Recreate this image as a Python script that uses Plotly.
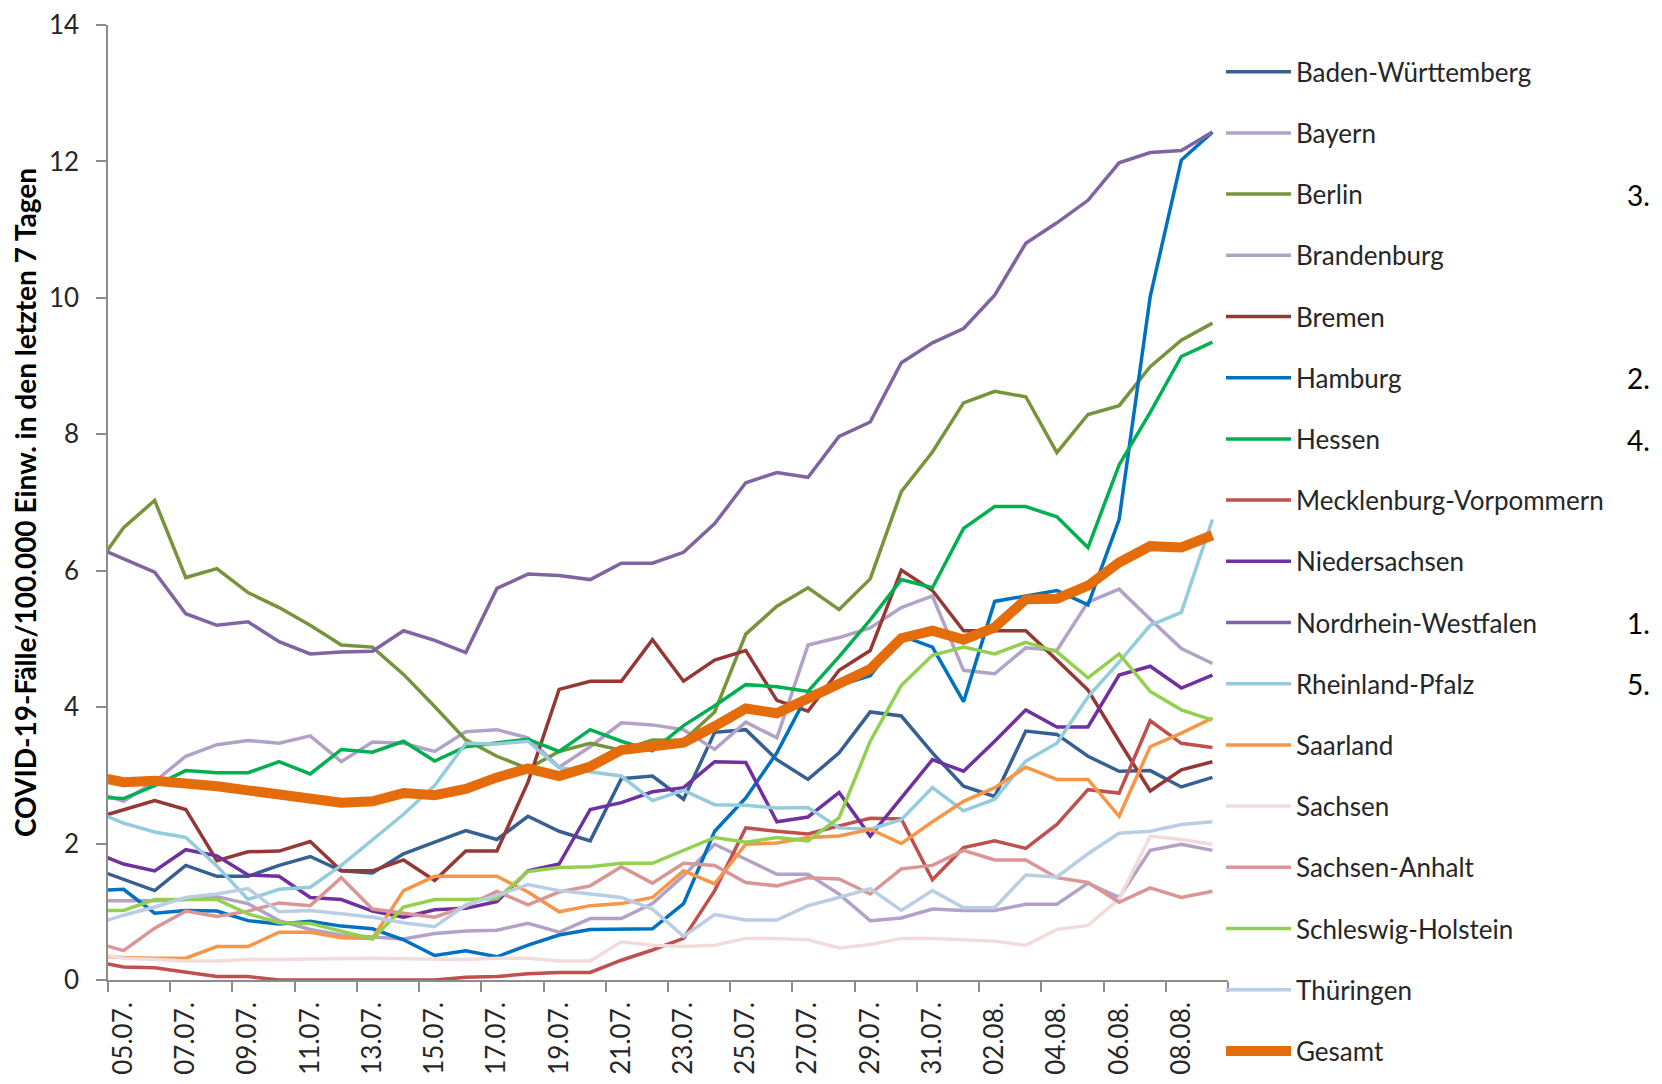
import plotly.graph_objects as go

dates = ["04.07.", "05.07.", "06.07.", "07.07.", "08.07.", "09.07.", "10.07.", "11.07.", "12.07.",
         "13.07.", "14.07.", "15.07.", "16.07.", "17.07.", "18.07.", "19.07.", "20.07.", "21.07.",
         "22.07.", "23.07.", "24.07.", "25.07.", "26.07.", "27.07.", "28.07.", "29.07.", "30.07.",
         "31.07.", "01.08.", "02.08.", "03.08.", "04.08.", "05.08.", "06.08.", "07.08.", "08.08.",
         "09.08."]

bw = [1.64, 1.48, 1.31, 1.68, 1.52, 1.52, 1.68, 1.81, 1.60, 1.57, 1.85, 2.02, 2.19, 2.06, 2.40, 2.18,
      2.04, 2.95, 2.99, 2.65, 3.63, 3.67, 3.23, 2.94, 3.33, 3.93, 3.87, 3.33, 2.84, 2.69, 3.65, 3.60,
      3.28, 3.06, 3.07, 2.83, 2.97]
bayern = [2.77, 2.62, 2.91, 3.28, 3.45, 3.51, 3.47, 3.58, 3.20, 3.49, 3.47, 3.35, 3.64, 3.67, 3.55,
          3.12, 3.42, 3.77, 3.74, 3.67, 3.38, 3.78, 3.55, 4.91, 5.02, 5.16, 5.46, 5.63, 4.54, 4.49,
          4.87, 4.83, 5.54, 5.73, 5.29, 4.86, 4.64]
berlin = [5.99, 6.63, 7.03, 5.90, 6.03, 5.68, 5.46, 5.20, 4.91, 4.88, 4.48, 4.01, 3.52, 3.28, 3.10,
          3.35, 3.47, 3.37, 3.52, 3.51, 3.93, 5.07, 5.48, 5.75, 5.43, 5.88, 7.16, 7.74, 8.46, 8.63,
          8.55, 7.73, 8.29, 8.42, 8.99, 9.38, 9.63]
brandenburg = [1.16, 1.16, 1.16, 1.18, 1.22, 1.12, 0.87, 0.74, 0.66, 0.63, 0.60, 0.68, 0.72, 0.73,
               0.83, 0.70, 0.90, 0.90, 1.12, 1.53, 1.99, 1.77, 1.55, 1.55, 1.26, 0.87, 0.91, 1.04,
               1.02, 1.02, 1.11, 1.11, 1.42, 1.21, 1.90, 1.99, 1.90]
bremen = [2.36, 2.50, 2.63, 2.50, 1.75, 1.88, 1.89, 2.03, 1.60, 1.60, 1.76, 1.46, 1.89, 1.89, 2.90,
          4.26, 4.38, 4.38, 4.99, 4.38, 4.69, 4.83, 4.10, 3.94, 4.54, 4.83, 6.01, 5.71, 5.12, 5.12,
          5.12, 4.69, 4.25, 3.50, 2.77, 3.08, 3.20]
hamburg = [1.31, 1.33, 0.98, 1.02, 1.01, 0.87, 0.82, 0.86, 0.79, 0.75, 0.59, 0.36, 0.43, 0.34, 0.51,
           0.66, 0.74, 0.75, 0.75, 1.12, 2.18, 2.67, 3.33, 4.20, 4.32, 4.46, 5.05, 4.88, 4.08, 5.55,
           5.63, 5.71, 5.50, 6.75, 10.02, 12.02, 12.43]
hessen = [2.68, 2.66, 2.85, 3.07, 3.04, 3.04, 3.20, 3.02, 3.38, 3.34, 3.50, 3.21, 3.42, 3.47, 3.53,
          3.35, 3.67, 3.50, 3.36, 3.73, 4.02, 4.33, 4.30, 4.23, 4.74, 5.28, 5.87, 5.75, 6.62, 6.94,
          6.94, 6.79, 6.34, 7.55, 8.32, 9.14, 9.35]
mv = [0.28, 0.19, 0.18, 0.11, 0.05, 0.05, 0.0, 0.0, 0.0, 0.0, 0.0, 0.0, 0.04, 0.05, 0.09, 0.11, 0.11,
      0.29, 0.44, 0.61, 1.31, 2.23, 2.18, 2.14, 2.26, 2.37, 2.36, 1.47, 1.94, 2.04, 1.93, 2.28, 2.79,
      2.74, 3.80, 3.47, 3.41]
niedersachsen = [1.88, 1.70, 1.60, 1.91, 1.82, 1.54, 1.52, 1.21, 1.18, 1.01, 0.92, 1.03, 1.05, 1.15,
                 1.60, 1.70, 2.50, 2.60, 2.76, 2.82, 3.20, 3.19, 2.32, 2.39, 2.75, 2.11, 2.67, 3.23,
                 3.06, 3.50, 3.96, 3.71, 3.71, 4.47, 4.60, 4.28, 4.47]
nrw = [6.37, 6.17, 5.98, 5.37, 5.20, 5.25, 4.96, 4.78, 4.81, 4.82, 5.12, 4.98, 4.80, 5.74, 5.95, 5.93,
       5.87, 6.11, 6.11, 6.27, 6.69, 7.29, 7.44, 7.37, 7.97, 8.18, 9.05, 9.34, 9.55, 10.04, 10.80,
       11.10, 11.43, 11.98, 12.13, 12.16, 12.43]
rlp = [2.49, 2.30, 2.17, 2.09, 1.67, 1.18, 1.33, 1.36, 1.68, 2.06, 2.43, 2.85, 3.47, 3.46, 3.50, 3.11,
       3.05, 2.99, 2.63, 2.78, 2.57, 2.56, 2.52, 2.53, 2.23, 2.21, 2.35, 2.82, 2.48, 2.65, 3.21, 3.47,
       4.15, 4.66, 5.20, 5.39, 6.75]
saarland = [0.36, 0.33, 0.32, 0.32, 0.49, 0.49, 0.70, 0.70, 0.62, 0.61, 1.31, 1.52, 1.52, 1.52, 1.29,
            1.00, 1.09, 1.12, 1.21, 1.60, 1.41, 1.99, 2.01, 2.09, 2.11, 2.21, 2.00, 2.32, 2.62, 2.82,
            3.12, 2.94, 2.94, 2.40, 3.42, 3.62, 3.84]
sachsen = [0.40, 0.32, 0.30, 0.28, 0.28, 0.30, 0.30, 0.31, 0.32, 0.32, 0.31, 0.30, 0.30, 0.32, 0.32,
           0.28, 0.28, 0.56, 0.51, 0.49, 0.51, 0.61, 0.61, 0.59, 0.47, 0.52, 0.61, 0.61, 0.59, 0.57,
           0.51, 0.74, 0.80, 1.19, 2.11, 2.06, 1.99]
sachsen_anhalt = [0.56, 0.43, 0.76, 1.01, 0.93, 1.01, 1.13, 1.09, 1.50, 1.04, 0.98, 0.92, 1.08, 1.30,
                  1.10, 1.29, 1.38, 1.66, 1.42, 1.71, 1.68, 1.43, 1.38, 1.50, 1.48, 1.26, 1.63, 1.68,
                  1.90, 1.76, 1.76, 1.50, 1.43, 1.14, 1.35, 1.21, 1.30]
sh = [1.02, 1.02, 1.18, 1.18, 1.18, 0.97, 0.84, 0.83, 0.72, 0.60, 1.07, 1.18, 1.18, 1.19, 1.59, 1.65,
      1.66, 1.71, 1.71, 1.90, 2.09, 2.02, 2.09, 2.04, 2.38, 3.50, 4.32, 4.76, 4.88, 4.78, 4.95, 4.81,
      4.43, 4.78, 4.23, 3.96, 3.81]
thueringen = [0.81, 0.95, 1.07, 1.21, 1.26, 1.34, 1.00, 1.02, 0.97, 0.92, 0.84, 0.78, 1.10, 1.24,
              1.40, 1.31, 1.26, 1.21, 1.04, 0.64, 0.96, 0.88, 0.88, 1.09, 1.21, 1.34, 1.02, 1.31,
              1.06, 1.06, 1.54, 1.51, 1.85, 2.15, 2.18, 2.28, 2.32]
gesamt = [2.99, 2.90, 2.92, 2.89, 2.84, 2.78, 2.72, 2.67, 2.60, 2.62, 2.74, 2.71, 2.80, 2.97, 3.10,
          2.99, 3.13, 3.37, 3.42, 3.48, 3.72, 3.98, 3.91, 4.13, 4.37, 4.56, 5.01, 5.12, 4.99, 5.17,
          5.58, 5.59, 5.78, 6.12, 6.36, 6.34, 6.52]

series_names = ["Baden-Württemberg", "Bayern", "Berlin", "Brandenburg", "Bremen", "Hamburg",
                "Hessen", "Mecklenburg-Vorpommern", "Niedersachsen", "Nordrhein-Westfalen",
                "Rheinland-Pfalz", "Saarland", "Sachsen", "Sachsen-Anhalt", "Schleswig-Holstein",
                "Thüringen", "Gesamt"]
series_values = [bw, bayern, berlin, brandenburg, bremen, hamburg, hessen, mv, niedersachsen, nrw,
                 rlp, saarland, sachsen, sachsen_anhalt, sh, thueringen, gesamt]
series_colors = ["#376092", "#B3A2C7", "#77933C", "#B3A2C7", "#953735", "#0070C0", "#00B050",
                 "#C0504D", "#7030A0", "#8064A2", "#93CDDD", "#F79646", "#F2DCDB", "#D99694",
                 "#92D050", "#B9CDE5", "#E46C0A"]
ranks = {"Nordrhein-Westfalen": "1.", "Hamburg": "2.", "Berlin": "3.", "Hessen": "4.",
         "Rheinland-Pfalz": "5."}

FONT = "Lato"
# the HTML page body has an 8px default margin; the figure is sized to fit inside the window
W, H = 1646, 1068
ML, MR, MT, MB = 100, 426, 17, 96
plot_w = W - ML - MR
plot_h = H - MT - MB

xpos = list(range(len(dates)))

fig = go.Figure()
for name, vals, col in zip(series_names, series_values, series_colors):
    fig.add_trace(go.Scatter(
        x=xpos, y=vals, mode="lines", name=name, legendgroup=name,
        line=dict(color=col, width=10 if name == "Gesamt" else 3.5),
        hoverinfo="skip",
    ))

label_idx = list(range(1, len(dates) - 1, 2))
boundaries = [i + 0.5 for i in range(0, len(dates), 2)]

fig.update_xaxes(
    range=[0.5, len(dates) - 0.5],
    tickmode="array", tickvals=label_idx, ticktext=[dates[i] for i in label_idx],
    ticks="", tickangle=-90,
    tickfont=dict(family=FONT, size=26, color="#262626"),
    showline=True, linecolor="#8C8C8C", linewidth=1.5,
    showgrid=False, zeroline=False,
    minor=dict(tickmode="array", tickvals=boundaries, ticks="outside", ticklen=10,
               tickcolor="#8C8C8C", tickwidth=1.5, showgrid=False),
    ticklabelstandoff=10, ticklabeloverflow="allow",
)
fig.update_yaxes(
    range=[0, 14], tickmode="linear", tick0=0, dtick=2,
    ticks="outside", ticklen=10, tickcolor="#8C8C8C", tickwidth=1.5,
    tickfont=dict(family=FONT, size=26, color="#262626"),
    showline=True, linecolor="#8C8C8C", linewidth=1.5,
    showgrid=False, zeroline=False,
    ticklabelstandoff=12, ticklabeloverflow="allow",
    title=dict(text="COVID-19-Fälle/100.000 Einw. in den letzten 7 Tagen",
               font=dict(family=FONT, size=28, color="#000000", weight="bold"), standoff=10),
)

legend_first_px = 64.3
legend_step_px = 61.2
for idx, name in enumerate(series_names):
    if name in ranks:
        ypx = legend_first_px + legend_step_px * idx
        fig.add_annotation(
            xref="paper", yref="paper", x=(1630 - ML) / plot_w,
            y=1 - (ypx - MT) / plot_h, text=ranks[name], showarrow=False,
            font=dict(family=FONT, size=28, color="#000000"),
            xanchor="center", yanchor="middle",
        )

fig.update_layout(
    width=W, height=H,
    margin=dict(l=ML, r=MR, t=MT, b=MB, autoexpand=False),
    paper_bgcolor="white", plot_bgcolor="white",
    showlegend=True,
    legend=dict(
        x=1 - 7 / plot_w, xanchor="left",
        y=1 - (legend_first_px - 24 - MT) / plot_h, yanchor="top",
        font=dict(family=FONT, size=26, color="#262626"),
        tracegroupgap=24.4, itemwidth=65, bgcolor="rgba(0,0,0,0)",
        borderwidth=0, maxheight=1200,
    ),
)

fig.write_html("out.html")
